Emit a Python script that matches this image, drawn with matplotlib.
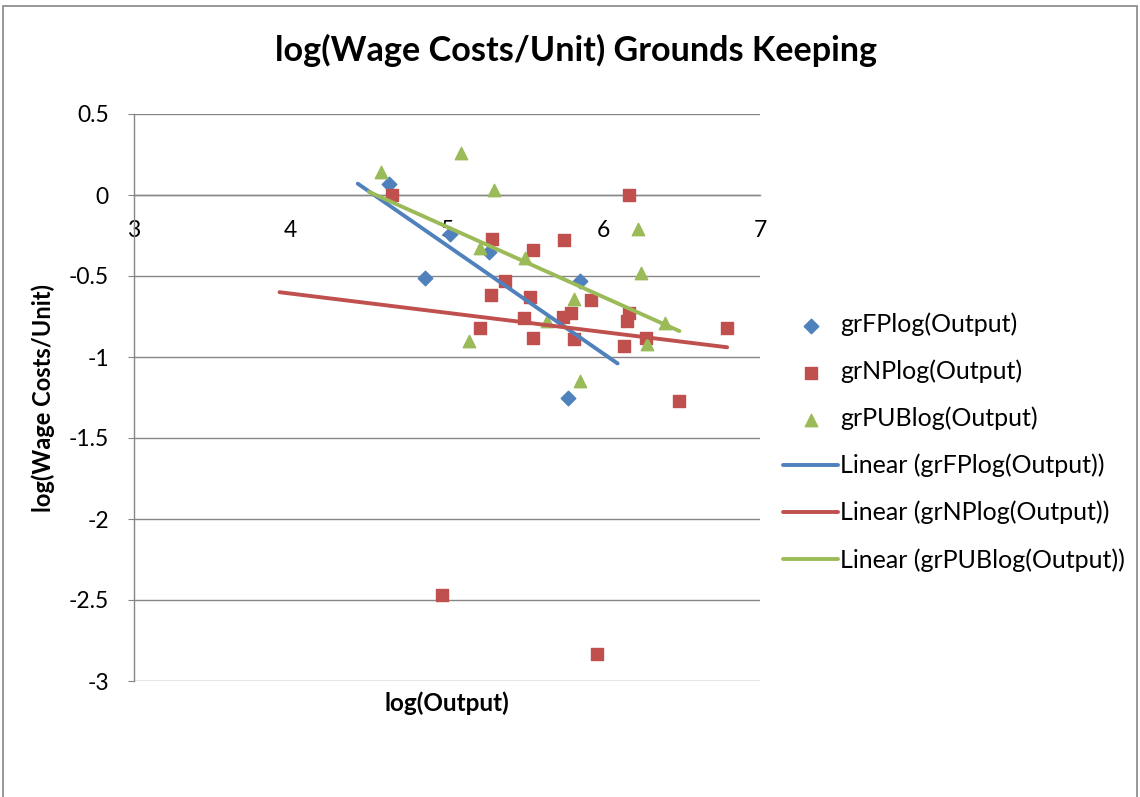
import matplotlib
matplotlib.use("Agg")
import matplotlib.pyplot as plt
from matplotlib.patches import Rectangle
import numpy as np

plt.rcParams['font.family'] = ['Lato', 'DejaVu Sans']

# grFP series (blue diamonds)
fp_x = [4.63, 4.86, 5.02, 5.27, 5.85, 5.77]
fp_y = [0.07, -0.51, -0.24, -0.35, -0.53, -1.25]

# grNP series (red squares)
np_x = [4.65, 5.29, 5.55, 5.37, 5.75, 5.28, 5.53, 5.92, 5.49, 5.74, 5.79, 5.21,
        5.55, 5.81, 6.13, 6.16, 6.15, 6.16, 6.27, 6.79, 6.48, 4.97, 5.96]
np_y = [0.00, -0.27, -0.34, -0.53, -0.28, -0.62, -0.63, -0.65, -0.76, -0.75, -0.73, -0.82,
        -0.88, -0.89, -0.93, -0.73, -0.78, 0.00, -0.88, -0.82, -1.27, -2.47, -2.835]

# grPUB series (green triangles)
pub_x = [4.58, 5.09, 5.30, 5.21, 5.50, 5.81, 5.64, 5.14, 5.85, 6.22, 6.24, 6.39, 6.28]
pub_y = [0.14, 0.26, 0.03, -0.33, -0.39, -0.64, -0.78, -0.90, -1.15, -0.21, -0.48, -0.79, -0.92]

# linear trendline end points
fp_fit_x = [4.43, 6.09]
fp_fit_y = [0.07, -1.04]
np_fit_x = [3.93, 6.79]
np_fit_y = [-0.60, -0.94]
pub_fit_x = [4.50, 6.485]
pub_fit_y = [0.02, -0.84]

blue = '#4F81BD'
red = '#C0504D'
green = '#9BBB59'
grey = '#868686'

fig = plt.figure(figsize=(11.4, 7.97), dpi=100)
ax = fig.add_axes([134/1140, 1 - 681/797, (760-134)/1140, (681-114)/797])

# outer chart border
fig.patches.append(Rectangle((3/1140, -0.05), 1134/1140, 1.05 - 6/797,
                             transform=fig.transFigure, fill=False,
                             edgecolor=grey, linewidth=1.2))

ax.scatter(fp_x, fp_y, marker='D', s=55, color=blue, label='grFPlog(Output)', zorder=3)
ax.scatter(np_x, np_y, marker='s', s=70, color=red, label='grNPlog(Output)', zorder=3)
ax.scatter(pub_x, pub_y, marker='^', s=80, color=green, label='grPUBlog(Output)', zorder=3)

ax.plot(fp_fit_x, fp_fit_y, color=blue, lw=2.8, solid_capstyle='round',
        label='Linear (grFPlog(Output))', zorder=4)
ax.plot(np_fit_x, np_fit_y, color=red, lw=2.8, solid_capstyle='round',
        label='Linear (grNPlog(Output))', zorder=4)
ax.plot(pub_fit_x, pub_fit_y, color=green, lw=2.8, solid_capstyle='round',
        label='Linear (grPUBlog(Output))', zorder=4)

ax.set_xlim(3, 7)
ax.set_ylim(-3, 0.5)
ax.set_xticks([3, 4, 5, 6, 7])
ax.set_yticks(np.arange(-3, 0.51, 0.5))
ax.set_yticklabels(['-3', '-2.5', '-2', '-1.5', '-1', '-0.5', '0', '0.5'])

ax.grid(axis='y', color=grey, linewidth=1.0)
ax.set_axisbelow(True)
for s in ['top', 'right']:
    ax.spines[s].set_visible(False)
ax.spines['bottom'].set_position(('data', 0))
ax.spines['bottom'].set_color(grey)
ax.spines['left'].set_color(grey)
ax.spines['bottom'].set_linewidth(1.0)
ax.spines['left'].set_linewidth(1.0)
ax.tick_params(axis='y', length=4, color=grey, pad=14, labelsize=16.5)
ax.tick_params(axis='x', length=0, pad=18, labelsize=16.5)

ax.set_ylabel('log(Wage Costs/Unit)', fontsize=17, fontweight='bold', labelpad=10)
fig.text(447/1140, 1 - 703/797, 'log(Output)', fontsize=17.5, fontweight='bold',
         ha='center', va='center')
fig.text(576/1140, 1 - 50/797, 'log(Wage Costs/Unit) Grounds Keeping',
         fontsize=24.6, fontweight='bold', ha='center', va='center')

ax.legend(loc='center left', bbox_to_anchor=(783/1140, 1 - 442/797),
          bbox_transform=fig.transFigure, frameon=False, fontsize=18,
          labelspacing=0.94, handlelength=2.2, handletextpad=0.1,
          borderaxespad=0, borderpad=0)

fig.savefig('out.png', dpi=100)
